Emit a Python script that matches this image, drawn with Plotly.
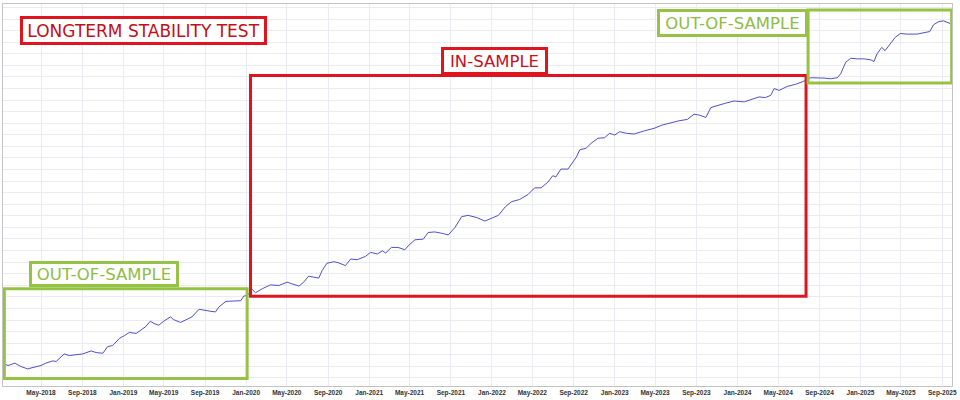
from plotly import graph_objects as go

# Equity curve
dates = [
    "2018-01-13", "2018-01-23", "2018-02-12", "2018-02-21", "2018-03-02", "2018-03-22",
    "2018-04-06", "2018-05-01", "2018-05-15", "2018-06-05", "2018-06-15", "2018-06-29",
    "2018-07-09", "2018-07-24", "2018-08-13", "2018-09-02", "2018-09-27", "2018-10-12",
    "2018-11-01", "2018-11-15", "2018-11-30", "2018-12-20", "2019-01-04", "2019-01-19",
    "2019-02-08", "2019-02-23", "2019-03-08", "2019-03-22", "2019-04-02", "2019-04-16",
    "2019-05-01", "2019-05-21", "2019-05-30", "2019-06-20", "2019-07-05", "2019-07-24",
    "2019-08-14", "2019-08-28", "2019-09-18", "2019-10-02", "2019-10-12", "2019-11-02",
    "2019-11-21", "2019-12-16", "2019-12-25", "2020-01-05",
    "2020-01-19", "2020-01-29", "2020-02-18", "2020-03-13", "2020-04-07", "2020-05-02",
    "2020-05-16", "2020-06-06", "2020-06-20", "2020-07-05", "2020-07-20", "2020-08-04",
    "2020-08-14", "2020-08-28", "2020-09-18", "2020-10-03", "2020-10-22", "2020-11-07",
    "2020-11-26", "2020-12-21", "2021-01-05", "2021-01-25", "2021-02-09", "2021-02-19",
    "2021-03-08", "2021-03-28", "2021-04-17", "2021-04-27", "2021-05-17", "2021-06-11",
    "2021-06-25", "2021-07-15", "2021-08-04", "2021-08-24", "2021-09-13", "2021-10-03",
    "2021-10-22", "2021-11-17", "2021-12-11", "2021-12-31", "2022-01-20", "2022-02-10",
    "2022-02-28", "2022-03-24", "2022-04-18", "2022-05-08",
    "2022-05-27", "2022-06-16", "2022-07-01", "2022-07-10", "2022-07-25", "2022-08-15",
    "2022-08-29", "2022-09-09", "2022-09-19", "2022-10-08", "2022-10-23", "2022-11-12",
    "2022-12-02", "2022-12-17", "2023-01-01", "2023-01-16", "2023-02-05", "2023-02-28",
    "2023-03-29", "2023-04-28", "2023-05-22", "2023-06-16", "2023-07-11", "2023-08-05",
    "2023-08-25", "2023-09-10", "2023-09-29", "2023-10-14", "2023-11-03", "2023-11-23",
    "2023-12-22", "2024-01-21", "2024-02-10", "2024-03-05", "2024-03-24", "2024-04-09",
    "2024-04-19", "2024-05-04", "2024-05-28", "2024-06-22", "2024-07-17",
    "2024-08-06", "2024-09-15", "2024-10-04", "2024-10-24", "2024-11-03", "2024-11-18",
    "2024-12-03", "2024-12-22", "2025-01-12", "2025-02-01", "2025-02-10", "2025-02-19",
    "2025-03-05", "2025-03-15", "2025-03-30", "2025-04-14", "2025-04-29", "2025-05-19",
    "2025-06-18", "2025-07-07", "2025-07-26", "2025-08-06", "2025-08-21", "2025-09-05",
    "2025-09-25",
]

balance = [
    10189, 10177, 10197, 10183, 10169, 10148, 10160, 10177, 10197, 10217, 10212, 10246,
    10277, 10263, 10268, 10277, 10303, 10289, 10283, 10340, 10349, 10411, 10435, 10463,
    10454, 10483, 10512, 10560, 10540, 10525, 10560, 10597, 10574, 10549, 10568, 10597,
    10663, 10654, 10645, 10640, 10683, 10731, 10731, 10737, 10777, 10783,
    10834, 10806, 10840, 10874, 10868, 10897, 10883, 10863, 10897, 10949, 10940, 10932,
    10997, 11060, 11074, 11063, 11040, 11097, 11091, 11120, 11155, 11140, 11168, 11149,
    11197, 11197, 11177, 11211, 11263, 11269, 11326, 11331, 11320, 11305, 11369, 11463,
    11474, 11455, 11425, 11446, 11474, 11549, 11592, 11611, 11654, 11712,
    11712, 11760, 11817, 11806, 11874, 11874, 11926, 11977, 12040, 12054, 12097, 12140,
    12145, 12183, 12168, 12197, 12183, 12177, 12203, 12226, 12254, 12274, 12291, 12303,
    12348, 12340, 12320, 12406, 12426, 12440, 12462, 12454, 12474, 12497, 12492, 12511,
    12569, 12554, 12588, 12606, 12634,
    12663, 12660, 12654, 12663, 12697, 12797, 12831, 12826, 12826, 12817, 12803, 12869,
    12925, 12897, 12954, 13011, 13045, 13040, 13040, 13049, 13062, 13120, 13148, 13154,
    13131,
]

# test periods
oos1_start, oos1_end = "2018-01-12", "2020-01-04"
is_start, is_end = "2020-01-14", "2024-07-23"
oos2_start, oos2_end = "2024-07-29", "2025-09-29"

RED = "#e0141e"
GREEN = "#96c346"
GRID = "#ebebf3"
BORDER = "#c4c4c4"

fig = go.Figure()
fig.add_trace(go.Scatter(
    x=dates,
    y=balance,
    mode="lines",
    line=dict(color="#5050c8", width=1),
    hoverinfo="x+y"))

fig.update_xaxes(
    type="date",
    range=["2018-01-08", "2025-09-30"],
    tick0="2018-01-01",
    dtick="M4",
    tickformat="%b-%Y",
    ticks="",
    showgrid=True,
    gridcolor=GRID,
    showline=True,
    linecolor=BORDER,
    mirror=True,
    zeroline=False,
    tickfont=dict(family="Liberation Sans", size=6.5, color="#333333", weight="bold"))

fig.update_yaxes(
    range=[10000, 13300],
    tick0=10070,
    dtick=100,
    showticklabels=False,
    ticks="",
    showgrid=True,
    gridcolor=GRID,
    showline=True,
    linecolor=BORDER,
    mirror=True,
    zeroline=False)

# period boxes
boxes = [
    (oos1_start, oos1_end, 0.0195, 0.2545, GREEN),
    (is_start, is_end, 0.235, 0.813, RED),
    (oos2_start, oos2_end, 0.793, 0.984, GREEN),
]
for x0, x1, y0, y1, col in boxes:
    fig.add_shape(type="rect", xref="x", yref="paper",
                  x0=x0, x1=x1, y0=y0, y1=y1,
                  line=dict(color=col, width=3),
                  fillcolor="rgba(0,0,0,0)", layer="above")

# labels
labels = [
    ("LONGTERM STABILITY TEST", 0.1476, 0.9312, 241, 23, RED, "#c0101a", 17),
    ("IN-SAMPLE", 0.5179, 0.8499, 101, 22, RED, "#c8101c", 16.5),
    ("OUT-OF-SAMPLE", 0.1061, 0.2935, 144, 20, GREEN, "#8fbc45", 16.5),
    ("OUT-OF-SAMPLE", 0.7684, 0.9506, 145, 22, GREEN, "#8fbc45", 16.5),
]
for text, x, y, w, h, border, col, size in labels:
    fig.add_annotation(
        text=text, xref="paper", yref="paper", x=x, y=y,
        xanchor="center", yanchor="middle", showarrow=False,
        width=w, height=h, align="center", valign="middle",
        bgcolor="white", bordercolor=border, borderwidth=3, borderpad=0,
        font=dict(family="DejaVu Sans", size=size, color=col))

fig.update_layout(
    width=960,
    height=400,
    margin=dict(l=3, r=5, t=3, b=12),
    paper_bgcolor="white",
    plot_bgcolor="white",
    showlegend=False)

# page has a default 8px body margin, drop it so the figure sits at 0,0
fig.write_html("out.html",
               config={"displayModeBar": False},
               post_script="document.body.style.margin='0';")
